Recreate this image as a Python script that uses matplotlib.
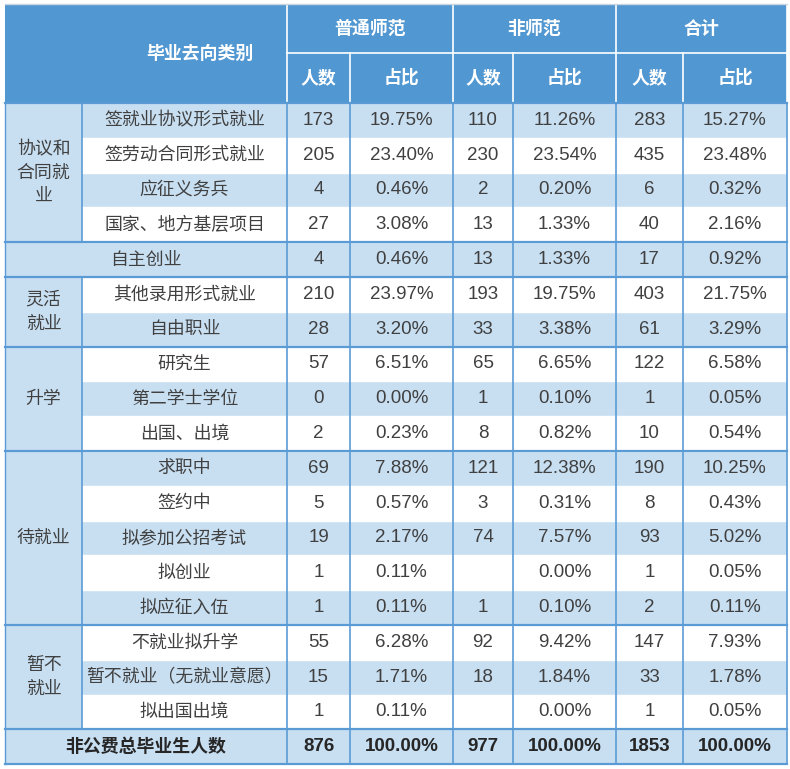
import matplotlib.pyplot as plt
from matplotlib.patches import Rectangle

plt.rcParams['font.family'] = ['Noto Sans CJK SC', 'DejaVu Sans']

# data
items = ["签就业协议形式就业", "签劳动合同形式就业", "应征义务兵", "国家、地方基层项目",
         "自主创业", "其他录用形式就业", "自由职业", "研究生", "第二学士学位", "出国、出境",
         "求职中", "签约中", "拟参加公招考试", "拟创业", "拟应征入伍",
         "不就业拟升学", "暂不就业（无就业意愿）", "拟出国出境"]
groups = ["协议和\n合同就\n业", None, "灵活\n就业", "升学", "待就业", "暂不\n就业"]
group_sizes = [4, 1, 2, 3, 5, 3]

normal_n = [173, 205, 4, 27, 4, 210, 28, 57, 0, 2, 69, 5, 19, 1, 1, 55, 15, 1]
normal_pct = [19.75, 23.40, 0.46, 3.08, 0.46, 23.97, 3.20, 6.51, 0.00, 0.23,
              7.88, 0.57, 2.17, 0.11, 0.11, 6.28, 1.71, 0.11]
non_n = [110, 230, 2, 13, 13, 193, 33, 65, 1, 8, 121, 3, 74, None, 1, 92, 18, None]
non_pct = [11.26, 23.54, 0.20, 1.33, 1.33, 19.75, 3.38, 6.65, 0.10, 0.82,
           12.38, 0.31, 7.57, 0.00, 0.10, 9.42, 1.84, 0.00]
tot_n = [283, 435, 6, 40, 17, 403, 61, 122, 1, 10, 190, 8, 93, 1, 2, 147, 33, 1]
tot_pct = [15.27, 23.48, 0.32, 2.16, 0.92, 21.75, 3.29, 6.58, 0.05, 0.54,
           10.25, 0.43, 5.02, 0.05, 0.11, 7.93, 1.78, 0.05]
total_label = "非公费总毕业生人数"
total_n = [876, 977, 1853]
total_pct = [100.00, 100.00, 100.00]
heads = ["普通师范", "非师范", "合计"]
subheads = ["人数", "占比"]

# layout (pixels)
xs = [5, 82, 287, 350, 453, 513, 616, 683, 787]
y0, y1, y2 = 4, 53, 103
rh = 34.8

HEAD = '#5197d1'
LIGHT = '#c8dff2'
LINE = '#5b9bd5'
TXT = '#404040'
NUMFONT = ['Liberation Sans', 'DejaVu Sans']
FS = 12.9
NFS = 13.5

fig = plt.figure(figsize=(7.9, 7.69), dpi=100)
ax = fig.add_axes([0, 0, 1, 1])
ax.set_xlim(0, 790)
ax.set_ylim(769, 0)
ax.axis('off')

# header
ax.add_patch(Rectangle((xs[0], y0), xs[-1] - xs[0], y2 - y0, fc=HEAD, ec='none'))
ax.text(200, (y0 + y2) / 2, "毕业去向类别", color='white', fontsize=FS,
        fontweight='bold', ha='center', va='center')
for k, h in enumerate(heads):
    xa, xb, xc = xs[2 + 2 * k], xs[3 + 2 * k], xs[4 + 2 * k]
    ax.text((xa + xc) / 2, (y0 + y1) / 2, h, color='white', fontsize=FS,
            fontweight='bold', ha='center', va='center')
    ax.text((xa + xb) / 2, (y1 + y2) / 2, subheads[0], color='white', fontsize=FS,
            fontweight='bold', ha='center', va='center')
    ax.text((xb + xc) / 2, (y1 + y2) / 2, subheads[1], color='white', fontsize=FS,
            fontweight='bold', ha='center', va='center')
    ax.plot([xc, xc], [y0, y2], color='white', lw=1.2)
    ax.plot([xb, xb], [y1, y2], color='white', lw=1.2)
ax.plot([xs[2], xs[2]], [y0, y2], color='white', lw=1.2)
ax.plot([xs[2], xs[-1]], [y1, y1], color='white', lw=1.2)
ax.plot([xs[0], xs[-1]], [y0, y0], color='#c8d6e2', lw=1.0)


def fmt_n(v):
    return "" if v is None else str(v)


merged = []
start = 0
for g, n in zip(groups, group_sizes):
    if g is None:
        merged.append(start)
    start += n

# body rows
for i, name in enumerate(items):
    top = y2 + i * rh
    fc = LIGHT if i % 2 == 0 else 'white'
    ax.add_patch(Rectangle((xs[1], top), xs[-1] - xs[1], rh, fc=fc, ec='none'))
    cy = top + rh / 2
    if i not in merged:
        ax.text((xs[1] + xs[2]) / 2, cy, name, color=TXT, fontsize=FS,
                ha='center', va='center')
    vals = [fmt_n(normal_n[i]), f"{normal_pct[i]:.2f}%", fmt_n(non_n[i]),
            f"{non_pct[i]:.2f}%", fmt_n(tot_n[i]), f"{tot_pct[i]:.2f}%"]
    for j, v in enumerate(vals):
        ax.text((xs[2 + j] + xs[3 + j]) / 2, cy, v, color=TXT, fontsize=NFS,
                family=NUMFONT, ha='center', va='center')
    if i > 0:
        ax.plot([xs[1], xs[-1]], [top, top], color='white', lw=1.0)

# group column
start = 0
for g, n in zip(groups, group_sizes):
    top = y2 + start * rh
    h = n * rh
    if g is None:
        # merged cell spanning both label columns
        ax.add_patch(Rectangle((xs[0], top), xs[2] - xs[0], h, fc=LIGHT, ec='none'))
        ax.text((xs[0] + xs[2]) / 2, top + h / 2, items[start], color=TXT,
                fontsize=FS, ha='center', va='center')
    else:
        ax.add_patch(Rectangle((xs[0], top), xs[1] - xs[0], h, fc=LIGHT, ec='none'))
        ax.text((xs[0] + xs[1]) / 2, top + h / 2, g, color=TXT, fontsize=FS,
                ha='center', va='center', linespacing=1.4)
        ax.plot([xs[1], xs[1]], [top, top + h], color=LINE, lw=1.2)
    ax.plot([xs[0], xs[-1]], [top, top], color=LINE, lw=1.6)
    start += n

# total row
top = y2 + len(items) * rh
ax.add_patch(Rectangle((xs[0], top), xs[-1] - xs[0], rh, fc=LIGHT, ec='none'))
ax.plot([xs[0], xs[-1]], [top, top], color=LINE, lw=1.6)
ax.text((xs[0] + xs[2]) / 2, top + rh / 2, total_label, color='#262626',
        fontsize=FS, fontweight='bold', ha='center', va='center')
for k in range(3):
    ax.text((xs[2 + 2 * k] + xs[3 + 2 * k]) / 2, top + rh / 2, str(total_n[k]),
            color='#262626', fontsize=NFS, fontweight='bold', family=NUMFONT,
            ha='center', va='center')
    ax.text((xs[3 + 2 * k] + xs[4 + 2 * k]) / 2, top + rh / 2, f"{total_pct[k]:.2f}%",
            color='#262626', fontsize=NFS, fontweight='bold', family=NUMFONT,
            ha='center', va='center')
bottom = top + rh
ax.plot([xs[0], xs[-1]], [bottom, bottom], color=LINE, lw=1.6)

# body vertical lines
for x in xs[2:]:
    ax.plot([x, x], [y2, bottom], color=LINE, lw=1.2)
ax.plot([xs[0], xs[0]], [y2, bottom], color=LINE, lw=1.0)

fig.savefig('out.png', dpi=100)
